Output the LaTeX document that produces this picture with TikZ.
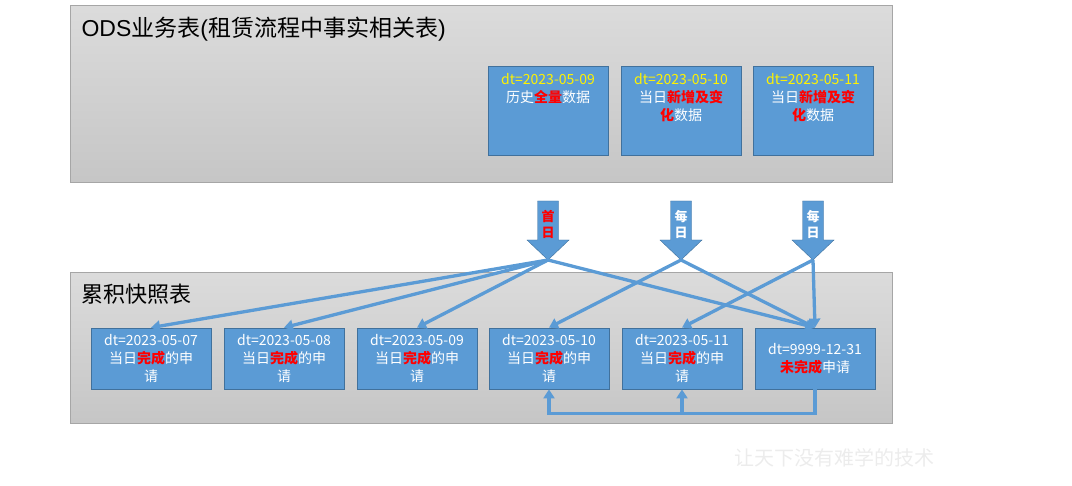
\documentclass[tikz,border=0pt]{standalone}
\usepackage{fontspec}
\setmainfont{Noto Sans CJK SC}
\newfontfamily\latinfont{Liberation Sans}
\usepackage{tikz}
\usetikzlibrary{arrows.meta,positioning,calc}

\definecolor{boxblue}{HTML}{5B9BD5}
\definecolor{boxedge}{HTML}{41719C}
\definecolor{paneledge}{HTML}{A6A6A6}
\newcommand{\redtxt}[1]{\textcolor{red}{\textbf{#1}}}

\begin{document}
\begin{tikzpicture}[x=1pt, y=-1pt,
    panel/.style={draw=paneledge, line width=1pt, top color=gray!28, bottom color=gray!45},
    bluebox/.style={draw=boxedge, fill=boxblue, line width=0.8pt, minimum width=120pt, inner sep=0pt},
    boxtxt/.style={text=white, align=center, font=\fontsize{14}{18}\selectfont},
    flow/.style={draw=boxblue, line width=3.3pt, -{Triangle[length=9pt,width=11pt]}}]
\useasboundingbox (0,0) rectangle (1072,486);

% Panels
\fill[panel] (70,6) rectangle (892,183);
\node[anchor=west, font=\fontsize{23}{26}\selectfont] (odst) at (78,29)
    {{\latinfont ODS}业务表{\latinfont(}租赁流程中事实相关表{\latinfont)}};
\fill[panel] (70,273) rectangle (892,424);
\node[anchor=west, font=\fontsize{22}{26}\selectfont] (acct) at (78,294) {累积快照表};

% ODS partitions
\foreach \x/\n in {548/d1, 681/d2, 813/d3} {
    \node[bluebox, minimum height=89pt] (\n) at (\x,110.5) {};
}
\node[boxtxt, below=4pt of d1.north, anchor=north] (d1t)
    {\textcolor{yellow}{dt=2023-05-09}\\历史\redtxt{全量}数据};
\node[boxtxt, below=4pt of d2.north, anchor=north] (d2t)
    {\textcolor{yellow}{dt=2023-05-10}\\当日\redtxt{新增及变}\\\redtxt{化}数据};
\node[boxtxt, below=4pt of d3.north, anchor=north] (d3t)
    {\textcolor{yellow}{dt=2023-05-11}\\当日\redtxt{新增及变}\\\redtxt{化}数据};

% Load arrows
\foreach \x/\n/\ta/\c in {548/a1/首/red, 681/a2/每/white, 813/a3/每/white} {
    \fill[boxblue, draw=boxedge, line width=0.4pt] (\x-10.5,201) -- (\x+10.5,201) -- (\x+10.5,240)
        -- (\x+21,240) -- (\x,260) -- (\x-21,240) -- (\x-10.5,240) -- cycle;
    \coordinate (\n) at (\x,260);
    \node[text=\c, align=center, font=\fontsize{13}{16}\selectfont\bfseries] (\n t) at (\x,224) {\ta\\日};
}

% Snapshot partitions
\foreach \x/\n/\d in {151/b1/07, 284/b2/08, 417/b3/09, 549/b4/10, 682/b5/11} {
    \node[bluebox, boxtxt, minimum height=61pt] (\n) at (\x,358.5)
        {dt=2023-05-\d\\当日\redtxt{完成}的申\\请};
}
\node[bluebox, boxtxt, minimum height=61pt] (b6) at (815,358.5)
    {dt=9999-12-31\\\redtxt{未完成}申请};

% Loading lines
\foreach \b in {b1,b2,b3,b6} {
    \draw[flow] (a1) -- (\b.north);
}
\draw[flow] (a2) -- (b4.north);
\draw[flow] (a2) -- (b6.north);
\draw[flow] (a3) -- (b5.north);
\draw[flow] (a3) -- (b6.north);

% Finished requests move back
\draw[flow] (b6.south) -- ++(0,24) coordinate (lp) -| (b4.south);
\draw[flow] (b5.south |- lp) -- (b5.south);

% Watermark
\node[text=gray!15, font=\fontsize{20}{24}\selectfont] (wm) at (834,458) {让天下没有难学的技术};
\end{tikzpicture}
\end{document}
